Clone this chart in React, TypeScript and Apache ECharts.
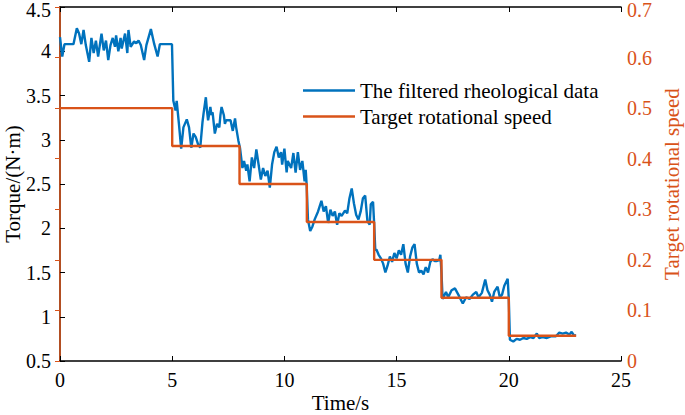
import React, { useEffect, useRef } from "react";
import * as echarts from "echarts";

const BLUE = "#0072BD";
const ORANGE = "#D95319";
const FONT = "Liberation Serif";

// Filtered rheological data (time in s, torque in N·m)
const torqueTime: number[] = [
  0, 0.1, 0.2, 0.6, 0.75, 0.85, 0.95, 1.05, 1.15, 1.3, 1.4, 1.5, 1.6, 1.7, 1.85, 1.95, 2.05, 2.15, 2.25, 2.35, 2.45, 2.5, 2.6, 2.7, 2.75, 2.9, 3.0, 3.05, 3.15, 3.3, 3.4, 3.5, 3.6, 3.75, 3.85, 4.05, 4.2, 4.35, 4.45, 4.99,
  5.05, 5.15, 5.2, 5.3, 5.4, 5.5, 5.65, 5.75, 5.85, 5.95, 6.05, 6.15, 6.25, 6.35, 6.4, 6.5, 6.55, 6.6, 6.7, 6.75, 6.8, 6.9, 7.0, 7.1, 7.15, 7.2, 7.3, 7.35, 7.4, 7.6, 7.7, 7.8, 7.85, 7.95, 8.02,
  8.13, 8.2, 8.3, 8.35, 8.45, 8.55, 8.65, 8.75, 8.85, 8.95, 9.05, 9.15, 9.25, 9.35, 9.45, 9.55, 9.65, 9.75, 9.85, 9.9, 10.0, 10.1, 10.15, 10.3, 10.4, 10.5, 10.6, 10.7, 10.8, 10.9, 10.95, 10.99,
  11.05, 11.15, 11.25, 11.35, 11.5, 11.65, 11.75, 11.85, 11.95, 12.05, 12.15, 12.25, 12.35, 12.45, 12.55, 12.7, 12.8, 12.9, 13.0, 13.1, 13.2, 13.3, 13.4, 13.5, 13.6, 13.7, 13.8, 13.85, 13.95, 14.0,
  14.05, 14.1, 14.2, 14.3, 14.4, 14.5, 14.6, 14.7, 14.8, 14.9, 15.0, 15.1, 15.2, 15.3, 15.4, 15.5, 15.6, 15.7, 15.8, 15.9, 16.0, 16.1, 16.2, 16.3, 16.4, 16.5, 16.6, 16.7, 16.8, 16.9, 16.95, 17.0,
  17.05, 17.2, 17.3, 17.45, 17.6, 17.75, 17.95, 18.1, 18.25, 18.4, 18.55, 18.65, 18.8, 18.95, 19.05, 19.15, 19.25, 19.35, 19.5, 19.6, 19.7, 19.8, 19.95, 20.0,
  20.05, 20.2, 20.35, 20.5, 20.65, 20.8, 20.95, 21.1, 21.25, 21.35, 21.5, 21.7, 21.9, 22.1, 22.25, 22.4, 22.55, 22.7, 22.8, 22.9, 23.0,
];
const torque: number[] = [
  4.16, 3.94, 4.08, 4.08, 4.26, 4.2, 4.08, 4.24, 4.07, 3.88, 4.15, 3.98, 4.12, 3.94, 4.2, 4.01, 4.12, 3.9, 4.07, 4.15, 4.05, 4.18, 4.0, 4.15, 4.03, 4.2, 3.98, 4.24, 4.05, 4.11, 4.09, 4.12, 4.07, 3.9, 4.07, 4.25, 4.08, 3.94, 4.08, 4.08,
  3.44, 3.33, 3.44, 3.18, 2.9, 3.14, 3.23, 3.14, 2.91, 3.07, 3.03, 2.95, 2.91, 3.2, 3.3, 3.48, 3.33, 3.22, 3.37, 3.28, 3.31, 3.07, 3.18, 3.14, 3.28, 3.37, 3.28, 3.18, 3.22, 3.22, 3.1, 3.24, 3.14, 2.99, 2.91,
  2.68, 2.76, 2.65, 2.72, 2.53, 2.8, 2.68, 2.89, 2.72, 2.55, 2.68, 2.59, 2.65, 2.46, 2.72, 2.86, 2.92, 2.8, 2.86, 2.72, 2.9, 2.63, 2.76, 2.68, 2.85, 2.63, 2.86, 2.66, 2.76, 2.53, 2.66, 2.5,
  2.1, 1.97, 2.02, 2.1, 2.19, 2.31, 2.19, 2.25, 2.06, 2.21, 2.14, 2.19, 2.04, 2.17, 2.14, 2.2, 2.17, 2.34, 2.45, 2.28, 2.15, 2.1, 2.19, 2.34, 2.37, 2.08, 2.04, 2.27, 2.3, 2.05,
  1.75, 1.76, 1.7, 1.66, 1.6, 1.5, 1.58, 1.68, 1.62, 1.72, 1.66, 1.75, 1.7, 1.82, 1.6, 1.5, 1.68, 1.78, 1.82, 1.6, 1.5, 1.52, 1.48, 1.56, 1.5, 1.62, 1.65, 1.63, 1.63, 1.64, 1.7, 1.5,
  1.2, 1.28, 1.22, 1.3, 1.32, 1.25, 1.15, 1.22, 1.2, 1.25, 1.28, 1.22, 1.27, 1.42, 1.3, 1.25, 1.17, 1.28, 1.34, 1.22, 1.25, 1.35, 1.43, 1.2,
  0.74, 0.72, 0.75, 0.74, 0.76, 0.75, 0.77, 0.76, 0.81, 0.76, 0.77, 0.76, 0.78, 0.78, 0.82, 0.81, 0.82, 0.8, 0.83, 0.79, 0.79,
];

// Target rotational speed steps
const speedTime: number[] = [0, 5, 8, 11, 14, 17, 20, 23];
const speed: number[] = [0.5, 0.425, 0.35, 0.275, 0.2, 0.125, 0.05, 0.05];

const xTicks = { min: 0, max: 25, interval: 5 };
const leftTicks = { min: 0.5, max: 4.5, interval: 0.5 };
const rightTicks = { min: 0, max: 0.7, interval: 0.1 };

const seriesNames = ["The filtered rheological data", "Target rotational speed"];

export default function App() {
  const ref = useRef<HTMLDivElement>(null);
  useEffect(() => {
    if (!ref.current) return;
    const chart = echarts.init(ref.current, undefined, { renderer: "svg" });
    const blueData = torqueTime.map((t, i) => [t, torque[i]]);
    const orangeData = speedTime.map((t, i) => [t, speed[i]]);
    const labelStyle = { fontFamily: FONT, fontSize: 20, lineHeight: 14, color: "#000" };
    const nameStyle = { fontFamily: FONT, fontSize: 21, lineHeight: 18, color: "#000" };
    const topRich = (color: string) => ({
      top: { fontFamily: FONT, fontSize: 20, lineHeight: 14, color, padding: [6, 0, 0, 0] },
    });
    const fmt = (max: number) => (v: number) => {
      const s = String(+v.toFixed(1));
      return Math.abs(v - max) < 1e-9 ? `{top|${s}}` : s;
    };
    chart.setOption({
      animation: false,
      backgroundColor: "#fff",
      grid: { left: 60, right: 64, top: 7, bottom: 54, containLabel: false, outerBoundsMode: "none" },
      legend: {
        data: seriesNames,
        orient: "vertical",
        left: 303,
        top: 80,
        padding: 0,
        icon: "rect",
        itemWidth: 52,
        itemHeight: 2.5,
        itemGap: 5,
        textStyle: { fontFamily: FONT, fontSize: 21, color: "#000" },
      },
      xAxis: [
        {
          type: "value",
          ...xTicks,
          position: "bottom",
          name: "Time/s",
          nameLocation: "middle",
          nameGap: 33,
          nameMoveOverlap: false,
          nameTextStyle: nameStyle,
          axisLine: { show: true, lineStyle: { color: "#000", width: 1.5 } },
          axisTick: { show: true, inside: true, length: 5, lineStyle: { color: "#000" } },
          axisLabel: { ...labelStyle, margin: 12 },
          splitLine: { show: false },
        },
        {
          type: "value",
          ...xTicks,
          position: "top",
          axisLine: { show: true, lineStyle: { color: "#000", width: 1.5 } },
          axisTick: { show: true, inside: true, length: 5, lineStyle: { color: "#000" } },
          axisLabel: { show: false },
          splitLine: { show: false },
        },
      ],
      yAxis: [
        {
          type: "value",
          ...leftTicks,
          position: "left",
          name: "Torque/(N·m)",
          nameLocation: "middle",
          nameGap: 38,
          nameMoveOverlap: false,
          nameTextStyle: nameStyle,
          axisLine: { show: true, lineStyle: { color: "#000", width: 1.5 } },
          axisTick: { show: true, inside: true, length: 5, lineStyle: { color: "#000" } },
          axisLabel: { ...labelStyle, margin: 9, formatter: fmt(leftTicks.max), rich: topRich("#000") },
          splitLine: { show: false },
        },
        {
          type: "value",
          ...rightTicks,
          position: "right",
          name: "Target rotational speed",
          nameLocation: "middle",
          nameGap: 42,
          nameMoveOverlap: false,
          nameTextStyle: { ...nameStyle, color: ORANGE },
          axisLine: { show: true, lineStyle: { color: ORANGE, width: 1.5 } },
          axisTick: { show: true, inside: true, length: 5, lineStyle: { color: ORANGE } },
          axisLabel: {
            ...labelStyle,
            color: ORANGE,
            margin: 6,
            formatter: fmt(rightTicks.max),
            rich: topRich(ORANGE),
          },
          splitLine: { show: false },
        },
      ],
      series: [
        {
          name: seriesNames[0],
          type: "line",
          xAxisIndex: 0,
          yAxisIndex: 0,
          data: blueData,
          showSymbol: false,
          symbol: "none",
          lineStyle: { color: BLUE, width: 2.4 },
          itemStyle: { color: BLUE },
        },
        {
          name: seriesNames[1],
          type: "line",
          xAxisIndex: 0,
          yAxisIndex: 1,
          step: "end",
          data: orangeData,
          showSymbol: false,
          symbol: "none",
          lineStyle: { color: ORANGE, width: 2.4 },
          itemStyle: { color: ORANGE },
        },
      ],
    });
    return () => chart.dispose();
  }, []);
  return <div ref={ref} style={{ width: 685, height: 415, position: "fixed", left: 0, top: 0 }} />;
}
